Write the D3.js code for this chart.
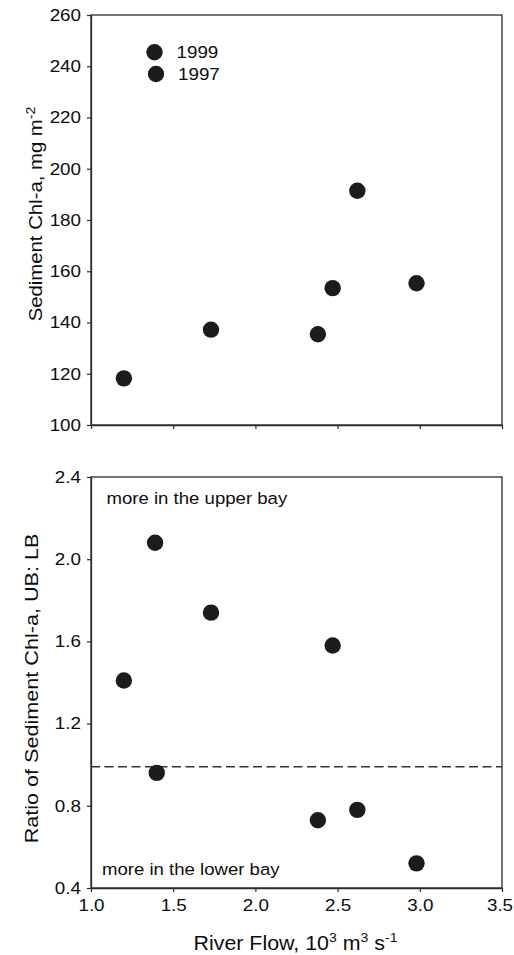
<!DOCTYPE html>
<html>
<head>
    <meta charset="utf-8">
    <style>
        body {margin:0; background:white;}
        text {font-family: "Liberation Sans", Arial, sans-serif; fill:#0d0d0d;}
    </style>
    <script src="https://d3js.org/d3.v7.min.js"></script>
</head>
<body>
    <script>
        // data
        var flowTop   = [1.20, 1.73, 2.38, 2.47, 2.62, 2.98];
        var chlTop    = [118.2, 137.2, 135.4, 153.4, 191.4, 155.3];
        var flowRatio = [1.20, 1.39, 1.73, 2.47, 1.40, 2.38, 2.62, 2.98];
        var ratio     = [1.41, 2.08, 1.74, 1.58, 0.96, 0.73, 0.78, 0.52];
        var legendYears = ["1999", "1997"];
        var xTicks      = [1.0, 1.5, 2.0, 2.5, 3.0, 3.5];
        var chlTicks    = [100, 120, 140, 160, 180, 200, 220, 240, 260];
        var ratioTicks  = [0.4, 0.8, 1.2, 1.6, 2.0, 2.4];
        var evenLine = 0.99;

        var width = 514, height = 955;
        var left = 91, right = 502;
        var top1 = 15, bot1 = 425;
        var top2 = 477, bot2 = 888;
        var SX = 1.14;   // the original text is a little wider than Liberation Sans
        var ink = "#1c1c1c", axisCol = "#2b2b2b";

        var svg = d3.select("body").append("svg")
            .attr("width", width)
            .attr("height", height);

        var x = d3.scaleLinear().domain([1.0, 3.5]).range([left, right]);
        var y1 = d3.scaleLinear().domain([100, 260]).range([bot1, top1]);
        var y2 = d3.scaleLinear().domain([0.4, 2.4]).range([bot2, top2]);

        function panel(y, ticks, fmt, top, bot, showX){
            // frame
            svg.append("rect")
                .attr("x", left).attr("y", top)
                .attr("width", right - left).attr("height", bot - top)
                .attr("fill", "none").attr("stroke", axisCol).attr("stroke-width", 1.3);

            var ya = svg.append("g")
                .attr("transform", `translate(${left},0)`)
                .call(d3.axisLeft(y).tickValues(ticks).tickFormat(fmt)
                    .tickSize(4).tickSizeOuter(0).tickPadding(6));
            ya.select(".domain").attr("stroke", axisCol).attr("stroke-width", 1.3);
            ya.selectAll(".tick line").attr("stroke", axisCol).attr("stroke-width", 1.2);
            ya.selectAll(".tick text")
                .attr("font-size", 16.5).attr("fill", "#0d0d0d")
                .attr("font-family", "Liberation Sans, Arial, sans-serif")
                .attr("x", -10 / SX)
                .attr("transform", `scale(${SX},1)`);

            var xa = svg.append("g")
                .attr("transform", `translate(0,${bot})`)
                .call(d3.axisBottom(x).tickValues(xTicks).tickFormat(showX ? d3.format(".1f") : "")
                    .tickSize(4).tickSizeOuter(0).tickPadding(7));
            xa.select(".domain").attr("stroke", axisCol).attr("stroke-width", 1.3);
            xa.selectAll(".tick line").attr("stroke", axisCol).attr("stroke-width", 1.2);
            xa.selectAll(".tick text")
                .attr("font-size", 16.5).attr("fill", "#0d0d0d")
                .attr("font-family", "Liberation Sans, Arial, sans-serif")
                .attr("x", d => d === 3.5 ? -2.5 / SX : 0)   // last label sits just inside the edge
                .attr("transform", `scale(${SX},1)`);
        }

        panel(y1, chlTicks, d3.format("d"), top1, bot1, false);
        panel(y2, ratioTicks, d3.format(".1f"), top2, bot2, true);

        // reference line at ratio ~ 1
        svg.append("line")
            .attr("x1", x(1.0)).attr("x2", x(3.5))
            .attr("y1", y2(evenLine)).attr("y2", y2(evenLine))
            .attr("stroke", "#333").attr("stroke-width", 1.6)
            .attr("stroke-dasharray", "9,4.5");

        // points
        svg.append("g").selectAll("circle")
            .data(d3.zip(flowTop, chlTop))
            .join("circle")
            .attr("cx", d => x(d[0])).attr("cy", d => y1(d[1]))
            .attr("r", 8.2).attr("fill", ink);

        svg.append("g").selectAll("circle")
            .data(d3.zip(flowRatio, ratio))
            .join("circle")
            .attr("cx", d => x(d[0])).attr("cy", d => y2(d[1]))
            .attr("r", 8.2).attr("fill", ink);

        // legend
        var leg = svg.append("g").selectAll("g")
            .data(legendYears)
            .join("g")
            .attr("transform", (d, i) => `translate(${154.5 + i * 1.5},${52.3 + i * 21.7})`);
        leg.append("circle").attr("r", 8.2).attr("fill", ink);
        leg.append("text")
            .attr("transform", `translate(22,5.8) scale(${SX},1)`)
            .attr("font-size", 16.5)
            .text(d => d);

        // annotations
        function label(txt, px, py){
            return svg.append("text")
                .attr("transform", `translate(${px},${py}) scale(${SX},1)`)
                .attr("font-size", 16.3)
                .text(txt);
        }
        label("more in the upper bay", 106.5, 503.5);
        label("more in the lower bay", 102, 875);

        // axis titles
        var yt1 = svg.append("text")
            .attr("transform", `translate(41.5,${(top1 + bot1) / 2 - 6}) rotate(-90) scale(1.13,1)`)
            .attr("text-anchor", "middle")
            .attr("font-size", 18);
        yt1.append("tspan").text("Sediment Chl-a, mg m");
        yt1.append("tspan").attr("font-size", 12.5).attr("dy", -7).text("-2");

        svg.append("text")
            .attr("transform", `translate(37.5,${(top2 + bot2) / 2 + 6}) rotate(-90) scale(1.2,1)`)
            .attr("text-anchor", "middle")
            .attr("font-size", 18)
            .text("Ratio of Sediment Chl-a, UB: LB");

        var xt = svg.append("text")
            .attr("transform", `translate(${(left + right) / 2 - 1},950) scale(1.08,1)`)
            .attr("text-anchor", "middle")
            .attr("font-size", 19.8);
        xt.append("tspan").text("River Flow, 10");
        xt.append("tspan").attr("font-size", 13).attr("dy", -8).text("3");
        xt.append("tspan").attr("dy", 8).text(" m");
        xt.append("tspan").attr("font-size", 13).attr("dy", -8).text("3");
        xt.append("tspan").attr("dy", 8).text(" s");
        xt.append("tspan").attr("font-size", 13).attr("dy", -8).text("-1");
    </script>
</body>
</html>
